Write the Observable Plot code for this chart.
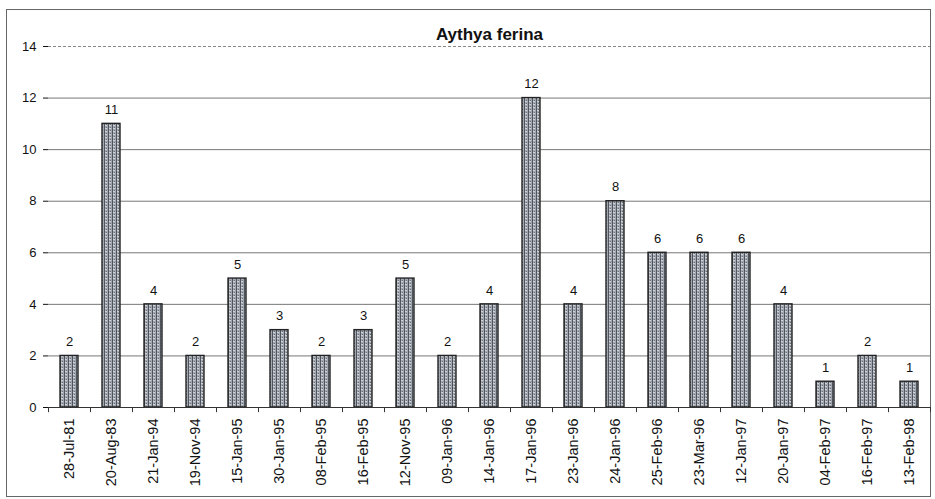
<!DOCTYPE html>
<html>
<head>
<meta charset="utf-8">
<script src="https://cdn.jsdelivr.net/npm/d3@7"></script>
<script src="https://cdn.jsdelivr.net/npm/@observablehq/plot@0.6"></script>
<style>
  body { margin: 0; background: #fff; }
  #wrap { position: relative; width: 935px; height: 499px; }
  #frame { position: absolute; left: 6px; top: 9px; width: 925px; height: 488px; border: 1px solid #666; box-sizing: border-box; }
  #chart { position: absolute; left: 0; top: 0; }
</style>
</head>
<body>
<div id="wrap"><div id="frame"></div><div id="chart"></div></div>
<script>
const title = "Aythya ferina";
const dates = ["28-Jul-81","20-Aug-83","21-Jan-94","19-Nov-94","15-Jan-95","30-Jan-95","08-Feb-95","16-Feb-95","12-Nov-95","09-Jan-96","14-Jan-96","17-Jan-96","23-Jan-96","24-Jan-96","25-Feb-96","23-Mar-96","12-Jan-97","20-Jan-97","04-Feb-97","16-Feb-97","13-Feb-98"];
const counts = [2,11,4,2,5,3,2,3,5,2,4,12,4,8,6,6,6,4,1,2,1];
const yTicks = [0,2,4,6,8,10,12,14];

const data = dates.map((d, i) => ({date: d, count: counts[i]}));

const W = 935, H = 499, ml = 48, mr = 5, mt = 46, mb = 92;
const half = (W - ml - mr) / dates.length / 2;

const plot = Plot.plot({
  width: W, height: H,
  marginLeft: ml, marginRight: mr, marginTop: mt, marginBottom: mb,
  style: {fontFamily: "Liberation Sans, Arial, sans-serif", fontSize: "13px", color: "#111", background: "transparent"},
  x: {domain: dates, paddingInner: 0.57, paddingOuter: 0.285, label: null, tickSize: 0, tickRotate: -90, tickPadding: 11},
  y: {domain: [0, 14], ticks: yTicks, label: null, tickSize: 5, tickPadding: 7},
  marks: [
    Plot.ruleY(yTicks.filter(t => t > 0 && t < 14), {stroke: "#777", strokeWidth: 1}),
    Plot.ruleY([14], {stroke: "#888", strokeDasharray: "3,2", strokeWidth: 1}),
    Plot.barY(data, {x: "date", y: "count", fill: "url(#hatch)", stroke: "#222", strokeWidth: 1.4}),
    Plot.text(data, {x: "date", y: "count", text: d => String(d.count), dy: -14, fontSize: 13}),
    Plot.ruleY([0], {stroke: "#333"}),
    Plot.ruleX([0], {frameAnchor: "left", stroke: "#333"}),
    Plot.ruleX(dates, {x: d => d, y1: 0, y2: -0.2, dx: -half, stroke: "#333", clip: false}),
    Plot.ruleX([dates[dates.length - 1]], {x: d => d, y1: 0, y2: -0.2, dx: half, stroke: "#333", clip: false}),
    Plot.axisX({tickSize: 0, tickRotate: -90, tickPadding: 11, fontSize: 14.5, label: null}),
    Plot.text([title], {frameAnchor: "top", dy: -19, fontWeight: "bold", fontSize: 17})
  ]
});

const ns = "http://www.w3.org/2000/svg";
const defs = document.createElementNS(ns, "defs");
defs.innerHTML = `<pattern id="hatch" patternUnits="userSpaceOnUse" width="4" height="3">
  <rect width="4" height="3" fill="#a2a7b0"/>
  <rect x="0" y="0" width="1" height="3" fill="#4e545e"/>
  <rect x="2" y="1" width="1" height="1" fill="#6a7078"/>
  <rect x="1" y="2" width="2" height="1" fill="#d0d4da"/>
</pattern>`;
plot.insertBefore(defs, plot.firstChild);
document.getElementById("chart").appendChild(plot);
</script>
</body>
</html>
